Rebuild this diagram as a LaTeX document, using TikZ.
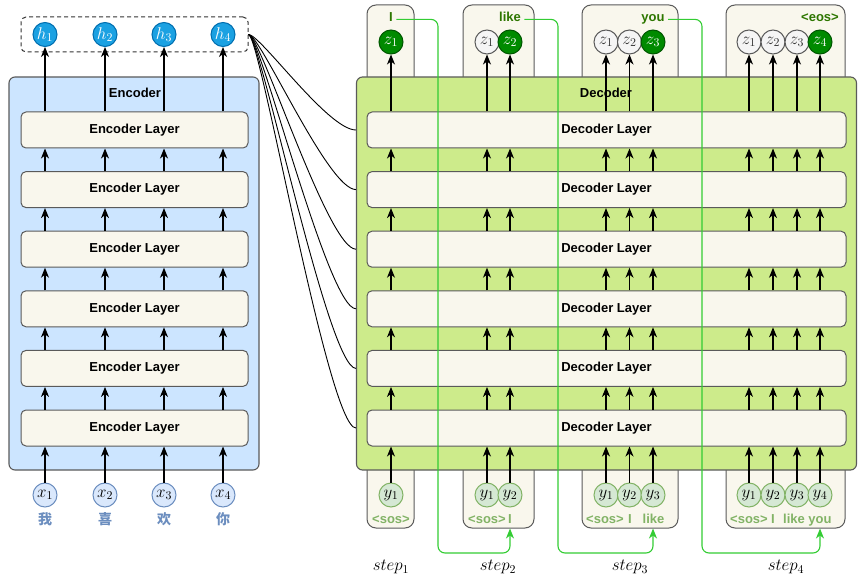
\RequirePackage{fix-cm}
\documentclass[tikz,border=0pt]{standalone}
\usepackage{amsmath}
\usepackage{fontspec}
\setmainfont{Liberation Sans}
\newfontfamily\cjk{Noto Sans CJK SC}
\usepackage{xcolor}
\usepackage{tikz}
\usetikzlibrary{arrows.meta}

\definecolor{edge}{HTML}{5A5A5A}
\definecolor{encfill}{HTML}{CCE5FF}
\definecolor{decfill}{HTML}{CDEB8B}
\definecolor{layerfill}{HTML}{F9F7ED}
\definecolor{hfill}{HTML}{1BA1E2}
\definecolor{hedge}{HTML}{006EAF}
\definecolor{xfill}{HTML}{DAE8FC}
\definecolor{xedge}{HTML}{6C8EBF}
\definecolor{zfill}{HTML}{008A00}
\definecolor{zedge}{HTML}{005700}
\definecolor{zgray}{HTML}{F5F5F5}
\definecolor{yfill}{HTML}{D5E8D4}
\definecolor{yedge}{HTML}{82B366}
\definecolor{wordgreen}{HTML}{2D7600}
\definecolor{feedgreen}{HTML}{33CC33}

\tikzset{
  outer/.style={draw=edge, line width=1.1pt, rounded corners=6pt},
  layerbox/.style={draw=edge, fill=layerfill, line width=1pt, rounded corners=5pt, minimum height=36pt, font=\bfseries\fontsize{13}{15}\selectfont},
  tab/.style={draw=edge, fill=layerfill, line width=1pt, rounded corners=9pt},
  title/.style={font=\bfseries\fontsize{13}{15}\selectfont},
  tok/.style={circle, minimum size=24pt, inner sep=0pt, line width=1pt, font=\fontsize{17}{19}\selectfont},
  hnode/.style={tok, draw=hedge, fill=hfill, text=white},
  xnode/.style={tok, draw=xedge, fill=xfill},
  znode/.style={tok, draw=zedge, fill=zfill, text=white},
  zold/.style={tok, draw=edge, fill=zgray, text=black!80},
  ynode/.style={tok, draw=yedge, fill=yfill},
  word/.style={text=wordgreen, font=\bfseries\fontsize{13}{15}\selectfont, anchor=base},
  inword/.style={text=yedge, font=\bfseries\fontsize{13}{15}\selectfont, inner sep=0pt, anchor=base},
  hanzi/.style={text=xedge, font=\cjk\bfseries\fontsize{14}{16}\selectfont},
  steplbl/.style={font=\fontsize{17}{19}\selectfont},
  flow/.style={-{Stealth[length=10pt,width=8pt,inset=3pt]}, line width=1.1pt},
  link/.style={line width=0.9pt},
  feed/.style={draw=feedgreen, line width=1.1pt, rounded corners=7pt, -{Stealth[length=10pt,width=8pt,inset=3pt]}},
}

\begin{document}
\begin{tikzpicture}[x=1pt,y=-1pt]
    \useasboundingbox (0,0) rectangle (865,580);
    % step tabs, behind the decoder
    \node[tab, minimum width=47pt, minimum height=95pt] (t1) at (390.5,52.5){};
    \node[tab, minimum width=71pt, minimum height=95pt] (t2) at (498.5,52.5){};
    \node[tab, minimum width=96pt, minimum height=95pt] (t3) at (630,52.5){};
    \node[tab, minimum width=119pt, minimum height=95pt] (t4) at (785.5,52.5){};
    \node[tab, minimum width=47pt, minimum height=78pt] (b1) at (390.5,489){};
    \node[tab, minimum width=71pt, minimum height=78pt] (b2) at (498.5,489){};
    \node[tab, minimum width=96pt, minimum height=78pt] (b3) at (630,489){};
    \node[tab, minimum width=119pt, minimum height=78pt] (b4) at (785.5,489){};
    % encoder and decoder
    \node[outer, fill=encfill, minimum width=250pt, minimum height=393pt] (enc) at (134,273.5){};
    \node[outer, fill=decfill, minimum width=500pt, minimum height=393pt] (dec) at (606.5,273.5){};
    \node[title] (enct) at (135,93){Encoder};
    \node[title] (dect) at (606,93){Decoder};
    \foreach \i/\y in {1/428,2/368.4,3/308.8,4/249.2,5/189.6,6/130}{
        \node[layerbox, minimum width=227pt] (el\i) at (134.5,\y){Encoder Layer};
        \node[layerbox, minimum width=479pt] (dl\i) at (606.5,\y){Decoder Layer};
    }
    % encoder tokens
    \node[draw=black!80, line width=1pt, dash pattern=on 4pt off 3pt, rounded corners=5pt, minimum width=227pt, minimum height=35pt] (hbox) at (134.5,34.5){};
    \node[hnode] (h1) at (45,34.5){$h_1$};
    \node[hnode] (h2) at (105,34.5){$h_2$};
    \node[hnode] (h3) at (164,34.5){$h_3$};
    \node[hnode] (h4) at (223,34.5){$h_4$};
    \node[xnode] (x1) at (45,495){$x_1$};
    \node[xnode] (x2) at (105,495){$x_2$};
    \node[xnode] (x3) at (164,495){$x_3$};
    \node[xnode] (x4) at (223,495){$x_4$};
    \node[hanzi] (c1) at (45,519){我};
    \node[hanzi] (c2) at (105,519){喜};
    \node[hanzi] (c3) at (164,519){欢};
    \node[hanzi] (c4) at (223,519){你};
    % decoder outputs
    \node[znode] (z11) at (391,42){$z_1$};
    \node[zold] (z21) at (487,42){$z_1$};
    \node[znode] (z22) at (510,42){$z_2$};
    \node[zold] (z31) at (606,42){$z_1$};
    \node[zold] (z32) at (629.5,42){$z_2$};
    \node[znode] (z33) at (653,42){$z_3$};
    \node[zold] (z41) at (749,42){$z_1$};
    \node[zold] (z42) at (773,42){$z_2$};
    \node[zold] (z43) at (797,42){$z_3$};
    \node[znode] (z44) at (820,42){$z_4$};
    \node[word] (w1) at (391,22){I};
    \node[word] (w2) at (510,22){like};
    \node[word] (w3) at (653,22){you};
    \node[word] (w4) at (820,22){<eos>};
    % decoder inputs
    \node[ynode] (y11) at (391,495){$y_1$};
    \node[ynode] (y21) at (487,495){$y_1$};
    \node[ynode] (y22) at (510,495){$y_2$};
    \node[ynode] (y31) at (606,495){$y_1$};
    \node[ynode] (y32) at (629.5,495){$y_2$};
    \node[ynode] (y33) at (653,495){$y_3$};
    \node[ynode] (y41) at (749,495){$y_1$};
    \node[ynode] (y42) at (773,495){$y_2$};
    \node[ynode] (y43) at (797,495){$y_3$};
    \node[ynode] (y44) at (820,495){$y_4$};
    \node[inword] (i11) at (391,523){<sos>};
    \node[inword] (i21) at (487,523){<sos>};
    \node[inword] (i22) at (510,523){I};
    \node[inword] (i31) at (605,523){<sos>};
    \node[inword] (i32) at (630,523){I};
    \node[inword] (i33) at (653.5,523){like};
    \node[inword] (i41) at (749,523){<sos>};
    \node[inword] (i42) at (773,523){I};
    \node[inword] (i43) at (794,523){like};
    \node[inword] (i44) at (820,523){you};
    \node[steplbl] (s1) at (391,567){$step_1$};
    \node[steplbl] (s2) at (498,567){$step_2$};
    \node[steplbl] (s3) at (630,567){$step_3$};
    \node[steplbl] (s4) at (786,567){$step_4$};
    % arrows through the stacks
    \foreach \k in {1,2,3,4}{
        \draw[flow] (x\k) -- (x\k |- el1.south);
        \foreach \i/\j in {1/2,2/3,3/4,4/5,5/6}
            \draw[flow] (x\k |- el\i.north) -- (x\k |- el\j.south);
        \draw[flow] (x\k |- el6.north) -- (h\k);
    }
    \foreach \n in {11,21,22,31,32,33,41,42,43,44}{
        \draw[flow] (y\n) -- (y\n |- dl1.south);
        \foreach \i/\j in {1/2,2/3,3/4,4/5,5/6}
            \draw[flow] (y\n |- dl\i.north) -- (y\n |- dl\j.south);
        \draw[flow] (y\n |- dl6.north) -- (z\n);
    }
    % memory to every decoder layer
    \foreach \i in {1,...,6}
        \draw[link] (hbox.east) to[out=0,in=180,out distance=12pt,in distance=28pt] (dl\i.west -| dec.west);
    % outputs fed back
    \coordinate (g1) at (438,553);
    \coordinate (g2) at (558,553);
    \coordinate (g3) at (702,553);
    \draw[feed] (w1.east |- w1.mid) -| (g1) -| (b2.south -| y22);
    \draw[feed] (w2.east |- w2.mid) -| (g2) -| (b3.south -| y33);
    \draw[feed] (w3.east |- w3.mid) -| (g3) -| (b4.south -| y44);
\end{tikzpicture}
\end{document}
